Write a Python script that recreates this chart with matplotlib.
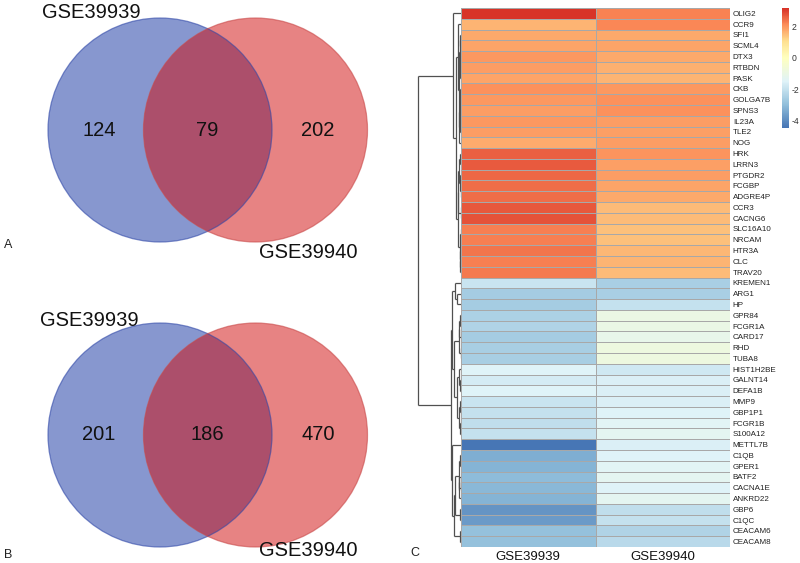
import numpy as np
import matplotlib
matplotlib.use("Agg")
import matplotlib.pyplot as plt
from matplotlib.colors import LinearSegmentedColormap, Normalize
from matplotlib.patches import Circle

plt.rcParams['font.family'] = ['Liberation Sans', 'DejaVu Sans']
plt.rcParams['axes.unicode_minus'] = False

# ---------------- data ----------------
venn_sets = ["GSE39939", "GSE39940"]
venn_A = [124, 79, 202]   # only GSE39939, both, only GSE39940
venn_B = [201, 186, 470]

genes = ["OLIG2", "CCR9", "SFI1", "SCML4", "DTX3", "RTBDN", "PASK", "CKB", "GOLGA7B",
         "SPNS3", "IL23A", "TLE2", "NOG", "HRK", "LRRN3", "PTGDR2", "FCGBP", "ADGRE4P",
         "CCR3", "CACNG6", "SLC16A10", "NRCAM", "HTR3A", "CLC", "TRAV20",
         "KREMEN1", "ARG1", "HP", "GPR84", "FCGR1A", "CARD17", "RHD", "TUBA8",
         "HIST1H2BE", "GALNT14", "DEFA1B", "MMP9", "GBP1P1", "FCGR1B", "S100A12",
         "METTL7B", "C1QB", "GPER1", "BATF2", "CACNA1E", "ANKRD22", "GBP6", "C1QC",
         "CEACAM6", "CEACAM8"]
samples = ["GSE39939", "GSE39940"]
gse39939 = [3.1, 1.6, 1.75, 1.8, 1.95, 1.9, 1.8, 2.05, 1.95, 1.9, 1.95, 1.9, 1.7,
            2.6, 2.65, 2.5, 2.45, 2.45, 2.7, 2.75, 2.25, 2.25, 2.35, 2.25, 2.3,
            -1.9, -2.6, -2.6, -2.45, -2.4, -2.6, -2.55, -2.55,
            -1.5, -1.7, -1.5, -1.9, -2.0, -2.1, -2.0,
            -4.4, -3.3, -3.2, -3.0, -3.1, -3.2, -3.8, -3.7, -2.9, -2.9]
gse39940 = [2.2, 2.15, 1.75, 1.8, 1.75, 1.65, 1.6, 1.95, 2.05, 2.05, 1.9, 1.85, 1.9,
            2.0, 1.85, 1.9, 1.8, 1.75, 1.5, 1.5, 1.45, 1.45, 1.55, 1.6, 1.5,
            -2.5, -2.5, -2.0, -0.95, -1.0, -1.1, -0.85, -0.85,
            -1.8, -1.6, -1.6, -1.6, -1.5, -1.4, -1.3,
            -1.6, -1.5, -1.4, -1.3, -1.5, -1.3, -2.1, -2.0, -2.4, -2.2]
cbar_ticks = [-4, -2, 0, 2]
vmin, vmax = -4.45, 3.15

W, H = 800, 563
fig = plt.figure(figsize=(W / 100, H / 100), dpi=100)

def fx(px):
    return px / W

def fy(py):
    return 1 - py / H

# ---------------- Venn diagrams ----------------
av = fig.add_axes([0, 0, 1, 1])
av.set_xlim(0, W)
av.set_ylim(H, 0)
av.axis('off')

blue = (17 / 255, 49 / 255, 161 / 255)
red = (209 / 255, 9 / 255, 9 / 255)

def venn(cy, counts, lab1_xy, lab2_xy, panel, panel_xy):
    cx1, cx2, r = 160, 255.5, 112
    av.add_patch(Circle((cx1, cy), r, facecolor=blue, alpha=0.5, edgecolor='none'))
    av.add_patch(Circle((cx2, cy), r, facecolor=red, alpha=0.5, edgecolor='none'))
    av.add_patch(Circle((cx1, cy), r, facecolor='none', edgecolor='#3048a8', lw=0.9, alpha=0.6))
    av.add_patch(Circle((cx2, cy), r, facecolor='none', edgecolor='#c84848', lw=0.9, alpha=0.6))
    xs = [99, 207, 318]
    for x, c in zip(xs, counts):
        av.text(x, cy, str(c), ha='center', va='center', fontsize=14.5, color='#111111')
    av.text(lab1_xy[0], lab1_xy[1], venn_sets[0], ha='left', va='center', fontsize=14.5, color='#111111')
    av.text(lab2_xy[0], lab2_xy[1], venn_sets[1], ha='left', va='center', fontsize=14.5, color='#111111')
    av.text(panel_xy[0], panel_xy[1], panel, ha='left', va='center', fontsize=9, color='#222222')

venn(130, venn_A, (42, 13), (259, 253), "A", (4, 245))
venn(435, venn_B, (40, 321), (259, 551), "B", (4, 555))
av.text(410, 553, "C", ha='left', va='center', fontsize=9, color='#222222')

# ---------------- heatmap ----------------
data = np.column_stack([gse39939, gse39940])
n = len(genes)
pos = [0.0, 0.195, 0.39, -vmin / (vmax - vmin), 0.723, 0.862, 1.0]
cols = ["#4575B4", "#91BFDB", "#E0F3F8", "#FFFFBF", "#FEE090", "#FC8D59", "#D73027"]
cmap = LinearSegmentedColormap.from_list("ph", list(zip(pos, cols)), N=256)
norm = Normalize(vmin=vmin, vmax=vmax)

hx0, hx1, hy0, hy1 = 461, 730, 8, 547
ah = fig.add_axes([fx(hx0), fy(hy1), fx(hx1 - hx0), (hy1 - hy0) / H])
ah.pcolormesh(np.arange(3), np.arange(n + 1), data, cmap=cmap, norm=norm,
              edgecolors='#a8a8a8', linewidth=0.5)
ah.set_xlim(0, 2)
ah.set_ylim(n, 0)
ah.set_yticks(np.arange(n) + 0.5)
ah.set_yticklabels(genes, fontsize=5.8, color='#222222')
ah.yaxis.tick_right()
ah.set_xticks([0.5, 1.5])
ah.set_xticklabels(samples, fontsize=9.5, color='#111111')
ah.tick_params(length=0, pad=2)
ah.tick_params(axis='x', pad=3)
for s in ah.spines.values():
    s.set_visible(False)

# ---------------- dendrogram (adjacency-constrained average linkage) ----------------
def dist_avg(a, b):
    A = data[a]
    B = data[b]
    d = np.sqrt(((A[:, None, :] - B[None, :, :]) ** 2).sum(-1))
    return d.mean()

clusters = [dict(members=[i], y=i + 0.5, h=0.0) for i in range(n)]
segments = []
while len(clusters) > 1:
    ds = [dist_avg(clusters[i]['members'], clusters[i + 1]['members']) for i in range(len(clusters) - 1)]
    k = int(np.argmin(ds))
    a, b = clusters[k], clusters[k + 1]
    h = max(ds[k], a['h'], b['h'])
    segments.append(([a['h'], h], [a['y'], a['y']]))
    segments.append(([h, h], [a['y'], b['y']]))
    segments.append(([b['h'], h], [b['y'], b['y']]))
    clusters[k:k + 2] = [dict(members=a['members'] + b['members'], y=(a['y'] + b['y']) / 2, h=h)]
root_h = clusters[0]['h']

dx0 = 411
ad = fig.add_axes([fx(dx0), fy(hy1), fx(hx0 - dx0), (hy1 - hy0) / H])
for xs_, ys_ in segments:
    ad.plot(xs_, ys_, color='#505050', lw=0.9, solid_capstyle='butt')
ad.set_ylim(n, 0)
ad.set_xlim(root_h * (hx0 - dx0) / (hx0 - 418), 0)
ad.axis('off')

# ---------------- colorbar ----------------
ac = fig.add_axes([fx(782), fy(128), fx(7), 120 / H])
cb = fig.colorbar(plt.cm.ScalarMappable(norm=norm, cmap=cmap), cax=ac, ticks=cbar_ticks)
cb.outline.set_visible(False)
cb.ax.set_yticklabels([str(t) for t in cbar_ticks])
ac.tick_params(length=0, labelsize=6.2, labelcolor='#333333', pad=2)

fig.savefig("out.png", dpi=100)
